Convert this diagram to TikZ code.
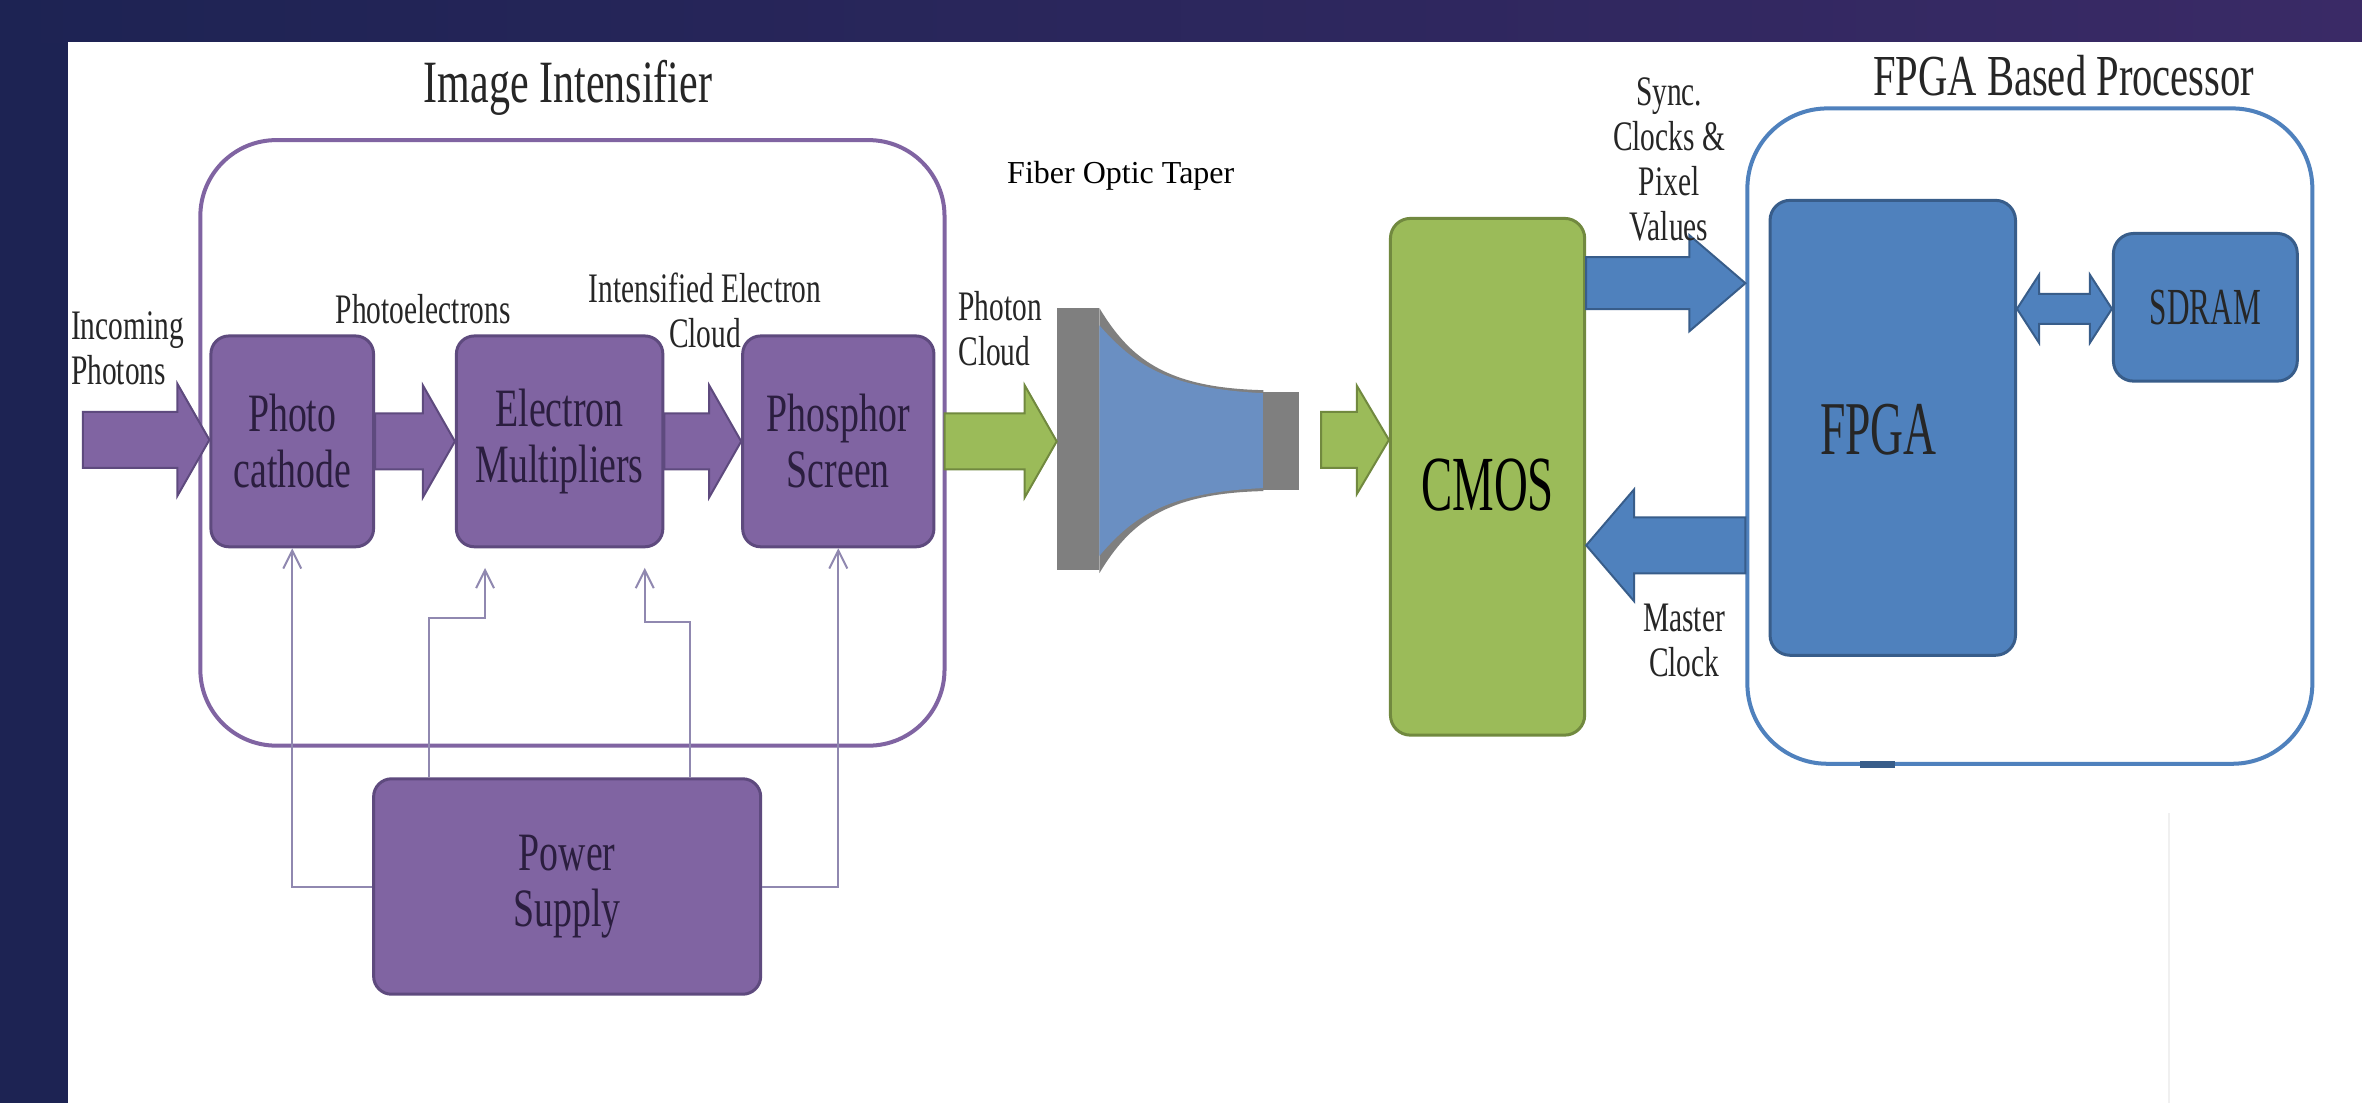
\documentclass[tikz,border=0pt]{standalone}
\usepackage{fontspec}
\setmainfont{Liberation Serif}
\newfontfamily\cnd[FakeStretch=0.7]{Liberation Serif}
\newfontfamily\cndd[FakeStretch=0.6]{Liberation Serif}
\usetikzlibrary{calc,arrows.meta}
\definecolor{pfill}{HTML}{8064A2}
\definecolor{pedge}{HTML}{5E4A7E}
\definecolor{gfill}{HTML}{9BBB59}
\definecolor{gedge}{HTML}{71893F}
\definecolor{bfill}{HTML}{4F81BD}
\definecolor{bedge}{HTML}{385D8A}
\definecolor{tgrey}{HTML}{7F7F7F}
\definecolor{tblue}{HTML}{6A8FC2}
\definecolor{wire}{HTML}{9088B0}
\definecolor{txt}{HTML}{262626}
\definecolor{boxtxt}{HTML}{2B1E3F}
\definecolor{bgnavy}{HTML}{1D2353}
\definecolor{bgpurple}{HTML}{3A2A66}
% fat horizontal arrow: style, from, to, shaft half, head half, head length (signed)
\newcommand\fatarrow[6]{%
  \path[#1] let \p1=(#2), \p2=(#3) in
  (\x1,\y1+#4) -- (\x2-#6,\y1+#4) -- (\x2-#6,\y1+#5) -- (\x2,\y1)
  -- (\x2-#6,\y1-#5) -- (\x2-#6,\y1-#4) -- (\x1,\y1-#4) -- cycle;}
% double headed fat arrow
\newcommand\dblarrow[6]{%
  \path[#1] let \p1=(#2), \p2=(#3) in
  (\x1,\y1) -- (\x1+#6,\y1+#5) -- (\x1+#6,\y1+#4) -- (\x2-#6,\y1+#4) -- (\x2-#6,\y1+#5)
  -- (\x2,\y1) -- (\x2-#6,\y1-#5) -- (\x2-#6,\y1-#4) -- (\x1+#6,\y1-#4) -- (\x1+#6,\y1-#5) -- cycle;}
\tikzset{
  pbox/.style={draw=pedge, fill=pfill, line width=1.5pt, rounded corners=9pt, inner sep=0pt,
    align=center, text=boxtxt, font={\cnd\fontsize{27}{28}\selectfont}},
  gbox/.style={draw=gedge, fill=gfill, line width=1.5pt, rounded corners=10pt, inner sep=0pt},
  bbox/.style={draw=bedge, fill=bfill, line width=1.5pt, rounded corners=10pt, inner sep=0pt},
  lbl/.style={text=txt, align=center, inner sep=0pt, font={\cnd\fontsize{21}{22.5}\selectfont}},
  ttl/.style={text=txt, inner sep=0pt, font={\cnd\fontsize{30}{32}\selectfont}},
  parrow/.style={fill=pfill, draw=pedge, line width=1pt},
  garrow/.style={fill=gfill, draw=gedge, line width=1pt},
  barrow/.style={fill=bfill, draw=bedge, line width=1pt},
  pwire/.style={draw=wire, line width=1pt, -{Straight Barb[length=9pt,width=9pt]}},
}
\begin{document}
\begin{tikzpicture}[x=0.753pt, y=-0.753pt]
\useasboundingbox (0,0) rectangle (1568,732);
% background
\fill[bgnavy] (0,0) rectangle (1568,732);
\shade[left color=bgnavy, right color=bgpurple] (0,0) rectangle (1568,28);
\fill[white] (45,28) rectangle (1568,732);
\draw[gray!12, line width=0.8pt] (1440,540) -- (1440,732);

% ---------- Image intensifier ----------
\node[ttl] (t1) at (377,58) {Image Intensifier};
\node[draw=pfill, line width=2pt, rounded corners=38pt, minimum width=372pt, minimum height=302.7pt] (ii) at (380,294) {};

\node[pbox, minimum width=81.3pt, minimum height=105.4pt] (pc) at (194,293) {Photo\\cathode};
\node[pbox, minimum width=103.2pt, minimum height=105.4pt] (em) at (371.5,293) {Electron\\Multipliers};
\node[pbox, minimum width=95.6pt, minimum height=105.4pt] (ps) at (556.5,293) {Phosphor\\Screen};
\node[pbox, minimum width=193.5pt, minimum height=107.7pt] (pw) at (376.5,588.5) {Power\\Supply};

% power wires
\coordinate (emA) at (322,377);
\coordinate (emB) at (428,377);
\draw[pwire] (pw.west) -| (pc.south);
\draw[pwire] (pw.north -| 285,0) |- (303,410) -| (emA);
\draw[pwire] (pw.north -| 458,0) |- (440,413) -| (emB);
\draw[pwire] (pw.east) -| (ps.south);

% purple fat arrows
\coordinate (inS) at (55,292);
\fatarrow{parrow}{inS}{pc.west}{14pt}{28pt}{16pt}
\fatarrow{parrow}{pc.east}{em.west}{14pt}{28pt}{16pt}
\fatarrow{parrow}{em.east}{ps.west}{14pt}{28pt}{16pt}

\node[lbl, align=left, anchor=west] (inc) at (47,231) {Incoming\\Photons};
\node[lbl] (pe) at (281,205) {Photoelectrons};
\node[lbl] (iec) at (468,206) {Intensified Electron\\Cloud};

% ---------- Fiber optic taper ----------
\node[text=black, inner sep=0pt, font={\fontsize{16}{18}\selectfont}] (fot) at (744,117) {Fiber Optic Taper};
\fill[tgrey] (701.5,204.5) rectangle (729.8,378.5);
\fill[tgrey] (729.8,204.5) .. controls (750,238) and (774,257.5) .. (838.6,259) -- (838.6,326) .. controls (774,327.5) and (750,347) .. (729.8,380.5) -- cycle;
\fill[tblue] (729.8,216) .. controls (752,241) and (774,258) .. (838.6,261) -- (838.6,324) .. controls (774,327) and (752,343) .. (729.8,369) -- cycle;
\fill[tgrey] (838.6,260) rectangle (862,325);
\coordinate (tapIn) at (701.5,292);
\coordinate (tapOut) at (877,292);

\coordinate (ccS) at (ps.east -| 627,0);
\fatarrow{garrow}{ccS}{tapIn}{14pt}{28pt}{16pt}
\node[lbl, align=left, anchor=west] (pcl) at (636,218) {Photon\\Cloud};

% ---------- CMOS ----------
\node[gbox, minimum width=97.1pt, minimum height=258.3pt] (cmos) at (987.5,316.5) {};
\node[text=black, inner sep=0pt, font={\cndd\fontsize{39}{40}\selectfont}] (cmost) at (987.5,322) {CMOS};
\fatarrow{garrow}{tapOut}{cmos.west}{14pt}{27pt}{16pt}

% ---------- FPGA based processor ----------
\node[ttl, font={\cnd\fontsize{29}{31}\selectfont}] (t2) at (1370,50) {FPGA Based Processor};
\node[draw=bfill, line width=2pt, rounded corners=40pt, minimum width=282.4pt, minimum height=327.6pt] (fbp) at (1347.5,289.5) {};
\fill[bedge] (1235,505) rectangle (1258,509.5);
\node[bbox, minimum width=122.7pt, minimum height=227.4pt] (fpga) at (1256.5,284) {};
\node[text=black!85, inner sep=0pt, font={\cndd\fontsize{38}{40}\selectfont}] (fpgat) at (1247,285) {FPGA};
\node[bbox, minimum width=91.9pt, minimum height=73.8pt, text=black!85, font={\cndd\fontsize{26}{28}\selectfont}] (sdram) at (1464,204) {SDRAM};

\coordinate (syS) at (cmos.east |- 0,188);
\coordinate (syE) at (fbp.west |- 0,188);
\fatarrow{barrow}{syS}{syE}{13pt}{24pt}{28pt}
\coordinate (mcS) at (fbp.west |- 0,362);
\fatarrow{barrow}{mcS}{cmos.east}{14pt}{28pt}{-24pt}
\dblarrow{barrow}{fpga.east |- 0,205}{sdram.west}{7.5pt}{17pt}{11pt}

\node[lbl] (sync) at (1108,106) {Sync.\\Clocks \&\\Pixel\\Values};
\node[lbl] (mclk) at (1118,425) {Master\\Clock};
\end{tikzpicture}
\end{document}
